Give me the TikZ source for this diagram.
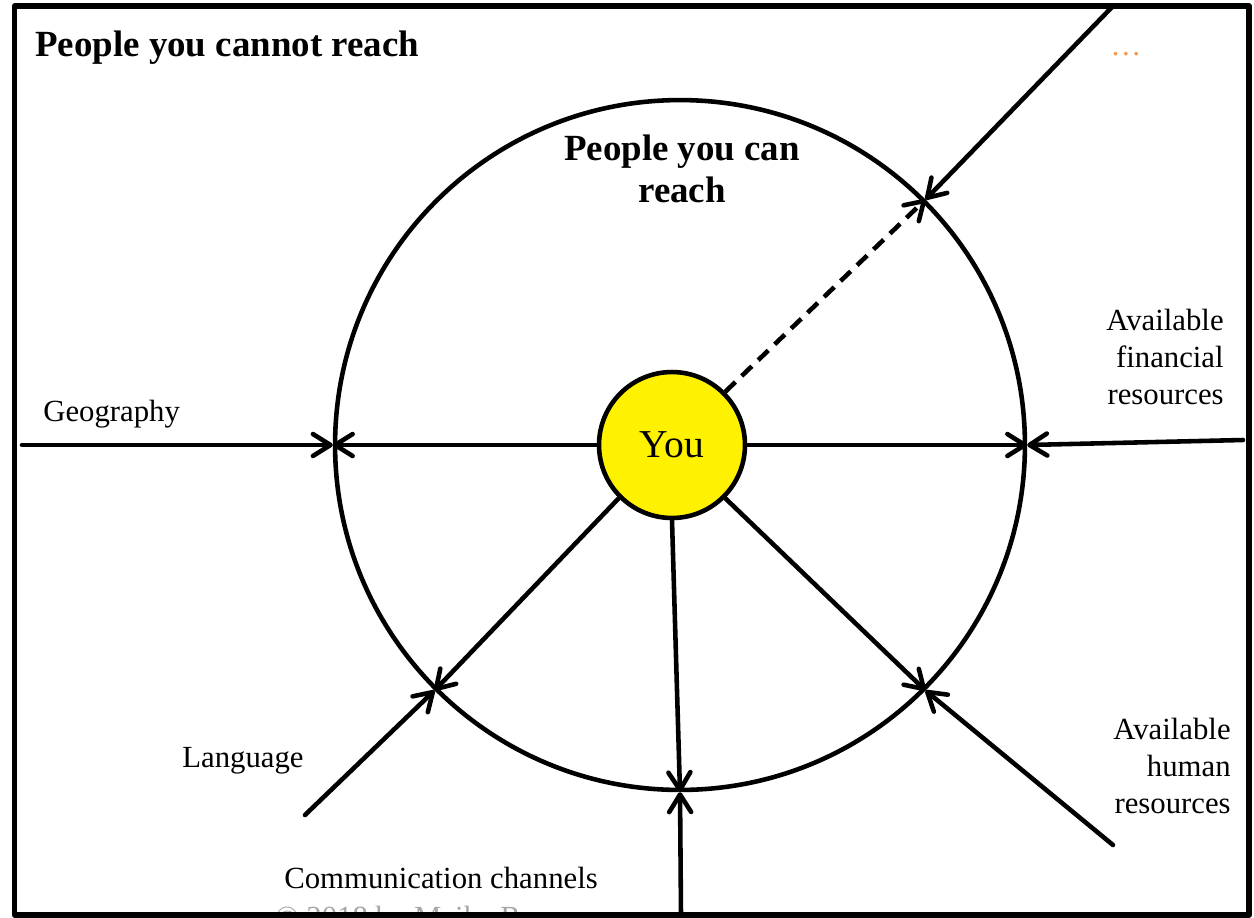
\documentclass[tikz,border=0pt]{standalone}
\usepackage{fontspec}
\setmainfont{Liberation Serif}
\usetikzlibrary{arrows.meta}
\definecolor{dotorange}{RGB}{247,150,70}

\begin{document}
\begin{tikzpicture}[x=0.02cm, y=-0.02cm, line cap=round, line join=round, >={Straight Barb[length=10pt,width=12.5pt,round]}]
\tikzset{ring/.style={circle, draw, line width=2.6pt, inner sep=0pt},
  limit/.style={->, line width=2.6pt},
  lbl/.style={font=\fontsize{17.5}{21}\selectfont, inner sep=0pt},
  heading/.style={font=\fontsize{21}{23.5}\selectfont\bfseries, inner sep=0pt}}

\clip (0,0) rectangle (1254,917);

% copyright, half hidden by the frame
\node[lbl, text=black!35, anchor=base west] (copy) at (275,927) {© 2018 by Maike Rave};

% frame
\draw[line width=2.9pt] (14.5,6) rectangle (1249,915);

% circles
\node[ring, minimum size=13.8cm] (reach) at (680,445) {};
\node[ring, fill=yellow, minimum size=2.92cm, font=\fontsize{22.5}{26}\selectfont] (you) at (672,445) {\raisebox{-3pt}{You}};

% from you outwards
\draw[limit] (you.west) -- (reach.west);
\draw[limit] (you.east) -- (reach.east);
\draw[limit] (you.-135) -- (reach.-135);
\draw[limit] (you.-90) -- (reach.-90);
\draw[limit] (you.-45) -- (reach.-45);
\draw[limit, line cap=butt, dash pattern=on 8pt off 5pt] (you.45) -- (reach.45);

% limits from outside
\coordinate (geo)  at (22,445);
\coordinate (fin)  at (1243,440);
\coordinate (more) at (1113,6);
\coordinate (lang) at (305,815);
\coordinate (comm) at (681,915);
\coordinate (hum)  at (1113,845);
\draw[limit] (geo) -- (reach.west);
\draw[limit] (fin) -- (reach.east);
\draw[limit] (more) -- (reach.45);
\draw[limit] (lang) -- (reach.-135);
\draw[limit] (comm) -- (reach.-90);
\draw[limit] (hum) -- (reach.-45);

% labels
\node[heading, anchor=base west] (outer) at (35,56) {People you cannot reach};
\node[heading, align=center, anchor=north] (inner) at (682,135) {People you can\\reach};
\node[lbl, text=dotorange, anchor=base] (dots) at (1126,55) {…};
\node[lbl, anchor=base west] (geoL) at (43,421) {Geography};
\node[lbl, anchor=base west] (langL) at (182,767) {Language};
\node[lbl, anchor=base west] (commL) at (284,888) {Communication channels};
\node[lbl, align=right, anchor=east] (finL) at (1224,357) {Available\\financial\\resources};
\node[lbl, align=right, anchor=east] (humL) at (1231,766) {Available\\human\\resources};
\end{tikzpicture}
\end{document}
